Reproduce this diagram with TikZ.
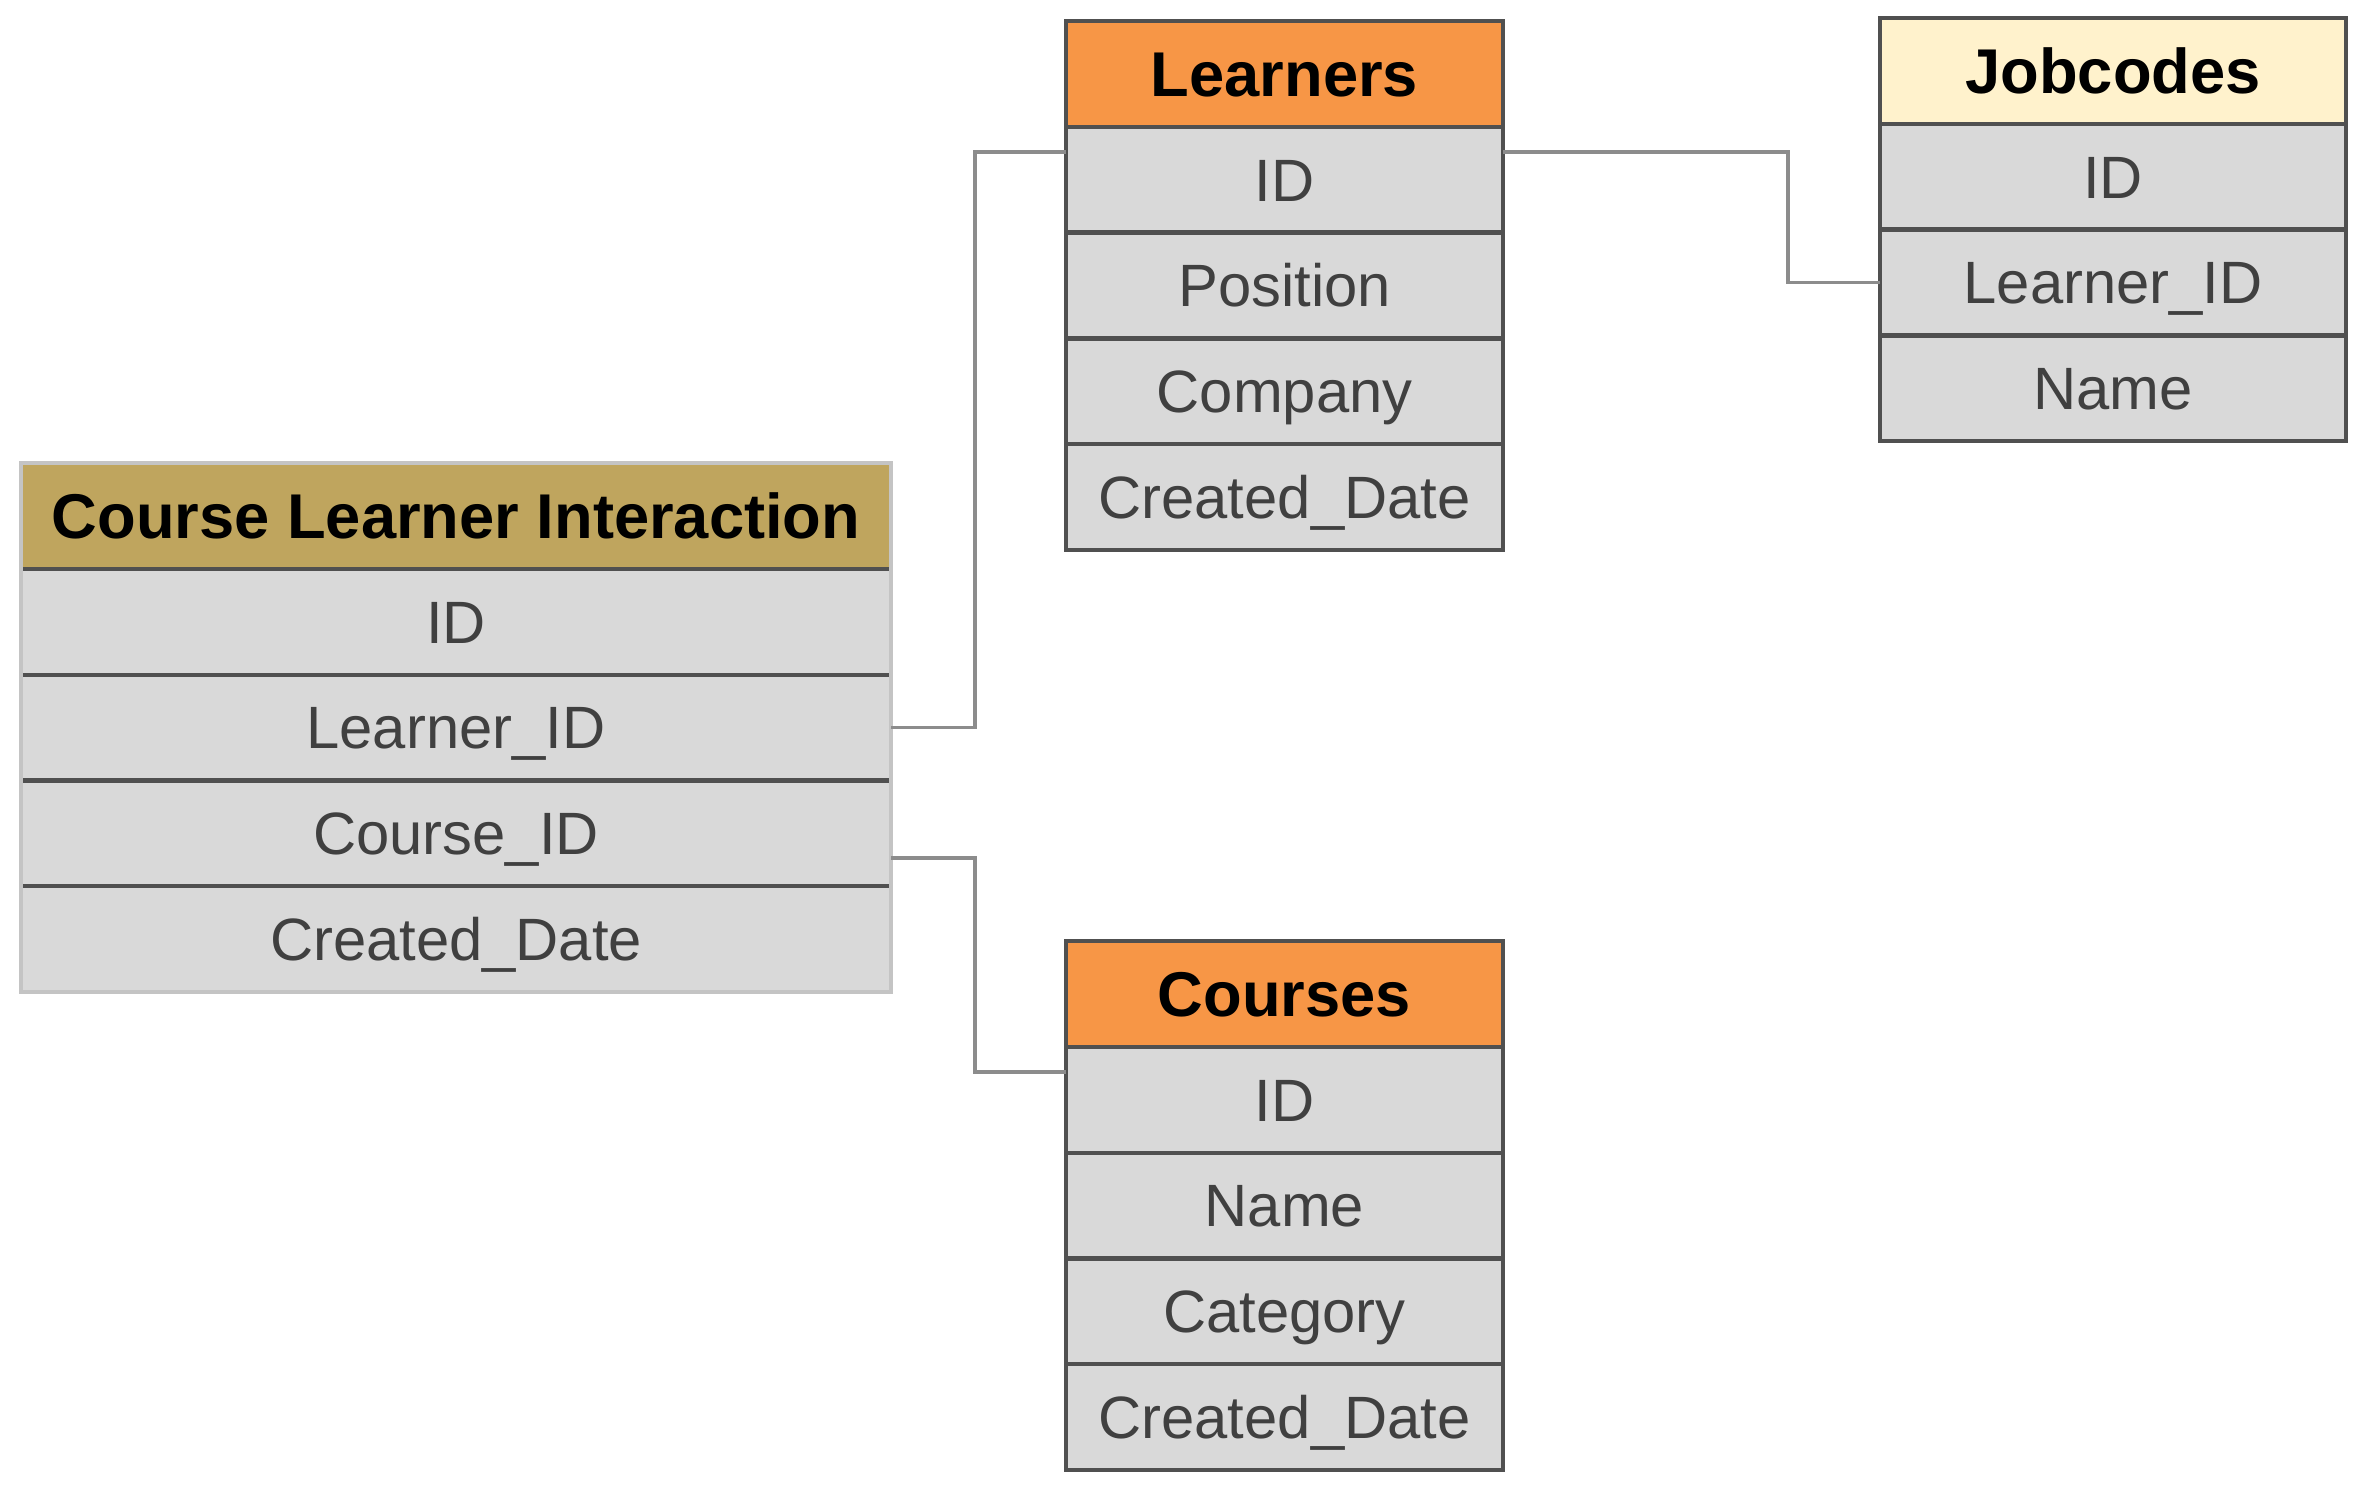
\documentclass[tikz,border=0pt]{standalone}
\usepackage{fontspec}
\setmainfont{Liberation Sans}
\usetikzlibrary{positioning}
\definecolor{khakihead}{HTML}{BFA55E}
\definecolor{orangehead}{HTML}{F79646}
\definecolor{creamhead}{HTML}{FFF2CC}
\definecolor{cellgray}{HTML}{D9D9D9}
\definecolor{edgegray}{HTML}{505050}
\definecolor{framegray}{HTML}{C4C4C4}
\definecolor{linkgray}{HTML}{8C8C8C}
\definecolor{textgray}{HTML}{404040}

\begin{document}
\begin{tikzpicture}
	\tikzstyle{every node}+=[inner sep=0pt, outer sep=0pt]
	\tikzstyle{head}=[rectangle, draw=edgegray, line width=1.2pt, minimum height=1.058cm, text height=13pt, text depth=0pt, font=\fontsize{18}{21}\selectfont\bfseries, text=black]
	\tikzstyle{field}=[rectangle, draw=edgegray, line width=1.2pt, fill=cellgray, minimum height=1.058cm, text height=12.2pt, text depth=0pt, font=\fontsize{17}{20}\selectfont, text=textgray]
	\tikzstyle{link}=[draw=linkgray, line width=1.1pt]
	\useasboundingbox (0,0) rectangle (23.64,-14.89);
	\node [head, fill=khakihead, minimum width=8.7cm, anchor=north west] (cli) at (0.21,-4.63) {Course Learner Interaction};
	\node [field, minimum width=8.7cm, below=0pt of cli] (cliid) {ID};
	\node [field, minimum width=8.7cm, below=0pt of cliid] (clilrn) {Learner\_ID};
	\node [field, minimum width=8.7cm, below=0pt of clilrn] (clicrs) {Course\_ID};
	\node [field, minimum width=8.7cm, below=0pt of clicrs] (clidate) {Created\_Date};
	\draw [framegray, line width=1pt] (cli.north west) rectangle (clidate.south east);
	\node [head, fill=orangehead, minimum width=4.37cm, anchor=north west] (lrn) at (10.66,-0.21) {Learners};
	\node [field, minimum width=4.37cm, below=0pt of lrn] (lrnid) {ID};
	\node [field, minimum width=4.37cm, below=0pt of lrnid] (lrnpos) {Position};
	\node [field, minimum width=4.37cm, below=0pt of lrnpos] (lrncomp) {Company};
	\node [field, minimum width=4.37cm, below=0pt of lrncomp] (lrndate) {Created\_Date};
	\node [head, fill=creamhead, minimum width=4.66cm, anchor=north west] (job) at (18.80,-0.18) {Jobcodes};
	\node [field, minimum width=4.66cm, below=0pt of job] (jobid) {ID};
	\node [field, minimum width=4.66cm, below=0pt of jobid] (joblrn) {Learner\_ID};
	\node [field, minimum width=4.66cm, below=0pt of joblrn] (jobname) {Name};
	\node [head, fill=orangehead, minimum width=4.37cm, anchor=north west] (crs) at (10.66,-9.41) {Courses};
	\node [field, minimum width=4.37cm, below=0pt of crs] (crsid) {ID};
	\node [field, minimum width=4.37cm, below=0pt of crsid] (crsname) {Name};
	\node [field, minimum width=4.37cm, below=0pt of crsname] (crscat) {Category};
	\node [field, minimum width=4.37cm, below=0pt of crscat] (crsdate) {Created\_Date};
	\draw [link] (clilrn.east) -- ++(0.84,0) |- ([yshift=-2.5mm]lrnid.north west);
	\draw [link] ([yshift=-2.5mm]lrnid.north east) -- ++(2.85,0) |- (joblrn.west);
	\draw [link] ([yshift=-2.5mm]clicrs.east) -- ++(0.84,0) |- ([yshift=-2.5mm]crsid.north west);
\end{tikzpicture}
\end{document}
